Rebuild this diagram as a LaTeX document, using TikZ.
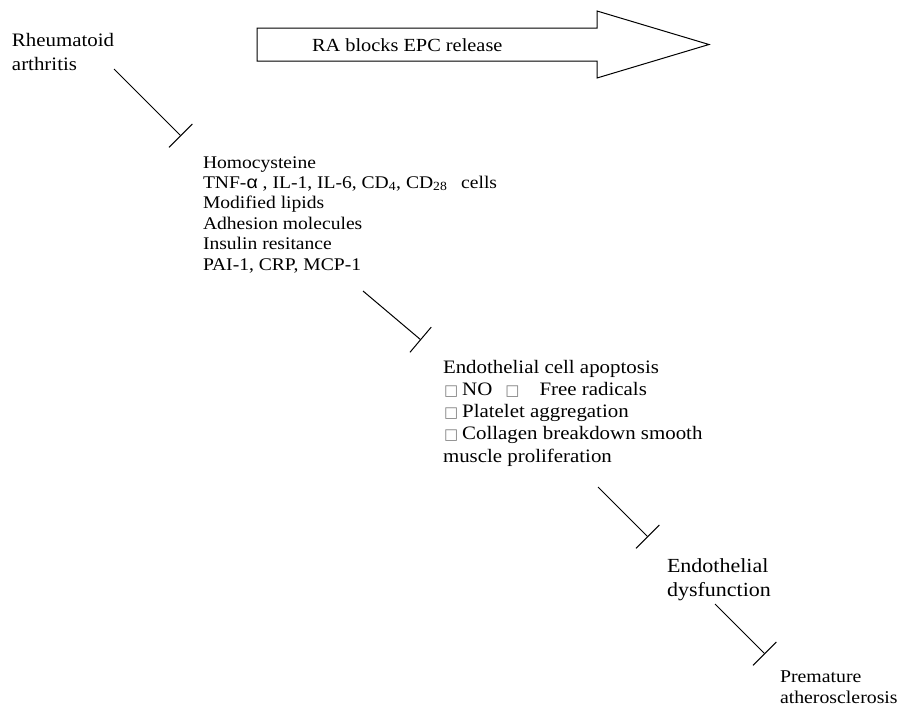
\documentclass[tikz,border=0pt]{standalone}
\usepackage{fontspec}
\setmainfont{Liberation Serif}[FakeStretch=1.1]
\newfontfamily\alphafont{Liberation Sans}[FakeStretch=1.1]
\newfontfamily\symfont{DejaVu Sans}
\usetikzlibrary{arrows.meta}
\newcommand{\sq}{{\symfont\fontsize{15}{15}\selectfont\textcolor{gray}{□}}}
\newcommand{\fs}[2]{\fontsize{#1}{#2}\selectfont}
\tikzset{
  txt/.style={anchor=base west, inner sep=0pt, outer sep=0pt},
  inhib/.style={line width=1pt, -{Bar[width=33pt, line width=1pt]}},
  blockarrow/.style={line width=1pt, fill=white, line join=miter}
}
\begin{document}
\begin{tikzpicture}[x=1pt, y=-1pt]
\useasboundingbox (0,0) rectangle (902,707);
% block arrow
\draw[blockarrow] (257,28) -- (597,28) -- (597,11) -- (709,44.5) -- (597,78) -- (597,61) -- (257,61) -- cycle;
\node[txt] (epc) at (312,51) {\fs{18.5}{22}RA blocks EPC release};
% text nodes
\node[txt] (ra) at (12,46) {\fs{19}{24}\begin{tabular}[t]{@{}l@{}}Rheumatoid\\arthritis\end{tabular}};
\node[txt] (risk) at (203,168) {\fs{17.8}{20.4}\begin{tabular}[t]{@{}l@{}}Homocysteine\\
TNF-{\alphafont α} , IL-1, IL-6, CD\textsubscript{4}, CD\textsubscript{28}\hspace{0.5em} cells\\
Modified lipids\\
Adhesion molecules\\
Insulin resitance\\
PAI-1, CRP, MCP-1\end{tabular}};
\node[txt] (apop) at (443,373) {\fs{19}{22.3}\begin{tabular}[t]{@{}l@{}}Endothelial cell apoptosis\\
\hspace{1pt}\sq\hspace{4pt}NO\hspace{13pt}\sq\hspace{20pt}Free radicals\\
\hspace{1pt}\sq\hspace{4pt}Platelet aggregation\\
\hspace{1pt}\sq\hspace{4pt}Collagen breakdown smooth\\
muscle proliferation\end{tabular}};
\node[txt] (dys) at (667,572) {\fs{20}{24}\begin{tabular}[t]{@{}l@{}}Endothelial\\dysfunction\end{tabular}};
\node[txt] (prem) at (780,682) {\fs{18}{21}\begin{tabular}[t]{@{}l@{}}Premature\\atherosclerosis\end{tabular}};
% connector end points
\coordinate (c1s) at (114,69);  \coordinate (c1e) at (181,136);
\coordinate (c2s) at (363,291); \coordinate (c2e) at (421,340);
\coordinate (c3s) at (598,487); \coordinate (c3e) at (648,537);
\coordinate (c4s) at (715,604); \coordinate (c4e) at (765,654);
\draw[inhib] (c1s) -- (c1e);
\draw[inhib] (c2s) -- (c2e);
\draw[inhib] (c3s) -- (c3e);
\draw[inhib] (c4s) -- (c4e);
\end{tikzpicture}
\end{document}
